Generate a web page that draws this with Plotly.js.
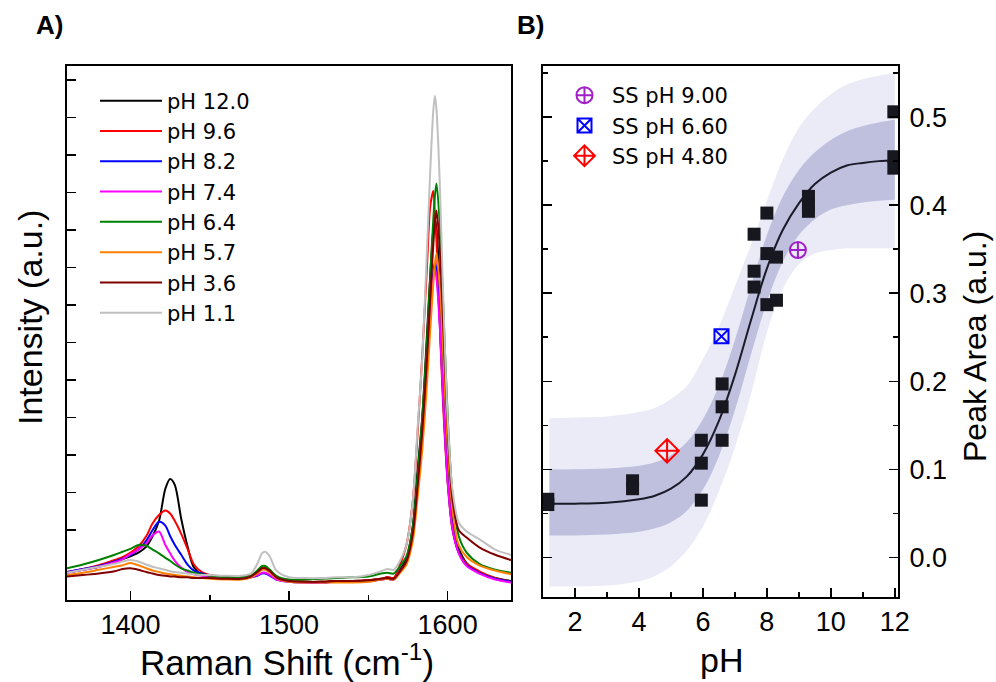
<!DOCTYPE html>
<html>
<head>
<meta charset="utf-8">
<script src="https://cdn.plot.ly/plotly-3.0.1.min.js"></script>
<style>html,body{margin:0;padding:0;background:#fff;}#chart{width:996px;height:682px;}</style>
</head>
<body>
<div id="chart"></div>
<script>
// ---------- Panel A: Raman spectra ----------
const wavenumber = [1360,1370,1380,1390,1395,1400,1405,1410,1414,1418,1422,1425,1428,1432,1436,1440,1445,1450,1460,1470,1476,1480,1483,1485,1488,1492,1500,1510,1520,1530,1540,1550,1558,1562,1566,1570,1574,1578,1581,1584,1587,1589,1591,1592,1593,1595,1597,1600,1603,1607,1612,1620,1630,1640];

const spec_pH12_0 = [-0.57,-0.53,-0.49,-0.43,-0.39, -0.35,-0.30,-0.22,-0.08,0.12, 0.55,0.68,0.60,0.15,-0.22, -0.50,-0.59,-0.61,-0.62,-0.63, -0.61,-0.56,-0.51,-0.51,-0.55, -0.63,-0.68,-0.69,-0.69,-0.68, -0.68,-0.67,-0.65,-0.63,-0.64, -0.53,-0.38,0.05,0.78,1.50, 2.61,3.38,4.01,4.15,4.01, 3.28,2.22,0.87,0.15,-0.24, -0.44,-0.56,-0.64,-0.68];
const spec_pH9_6 = [-0.56,-0.52,-0.47,-0.40,-0.36, -0.30,-0.22,-0.08,0.09,0.20, 0.26,0.22,0.12,-0.05,-0.25, -0.46,-0.56,-0.60,-0.62,-0.63, -0.61,-0.56,-0.51,-0.51,-0.55, -0.63,-0.68,-0.69,-0.69,-0.68, -0.68,-0.67,-0.65,-0.63,-0.64, -0.46,-0.20,0.38,1.27,2.32, 3.52,4.31,4.52,4.20,3.84, 2.79,1.74,0.64,0.01,-0.30, -0.45,-0.55,-0.64,-0.69];
const spec_pH8_2 = [-0.56,-0.52,-0.48,-0.42,-0.38, -0.33,-0.26,-0.14,0.00,0.11, 0.06,-0.08,-0.20,-0.33,-0.46, -0.54,-0.58,-0.61,-0.63,-0.64, -0.63,-0.61,-0.58,-0.58,-0.61, -0.66,-0.69,-0.70,-0.70,-0.69, -0.69,-0.68,-0.66,-0.65,-0.66, -0.55,-0.43,-0.04,0.60,1.24, 2.21,2.89,3.44,3.57,3.44, 2.81,1.87,0.68,0.04,-0.30, -0.47,-0.57,-0.65,-0.69];
const spec_pH7_4 = [-0.57,-0.53,-0.49,-0.43,-0.39, -0.32,-0.26,-0.18,-0.07,-0.02, -0.20,-0.31,-0.41,-0.50,-0.56, -0.59,-0.61,-0.62,-0.64,-0.64, -0.63,-0.60,-0.57,-0.57,-0.60, -0.66,-0.69,-0.70,-0.70,-0.69, -0.69,-0.68,-0.66,-0.65,-0.66, -0.55,-0.43,-0.06,0.58,1.20, 2.16,2.82,3.36,3.49,3.36, 2.74,1.83,0.65,0.03,-0.31, -0.48,-0.58,-0.66,-0.70];
const spec_pH6_4 = [-0.51,-0.46,-0.40,-0.33,-0.29, -0.25,-0.20,-0.21,-0.26,-0.31, -0.37,-0.41,-0.46,-0.51,-0.54, -0.57,-0.59,-0.61,-0.63,-0.63, -0.61,-0.54,-0.48,-0.48,-0.53, -0.61,-0.66,-0.66,-0.65,-0.64, -0.63,-0.62,-0.58,-0.57,-0.58, -0.48,-0.35,0.03,0.71,1.49, 2.53,3.37,4.15,4.46,4.62, 4.10,3.11,1.54,0.50,-0.08, -0.30,-0.45,-0.53,-0.57];
const spec_pH5_7 = [-0.60,-0.57,-0.53,-0.49,-0.47, -0.44,-0.47,-0.51,-0.54,-0.56, -0.58,-0.59,-0.60,-0.61,-0.62, -0.63,-0.64,-0.65,-0.66,-0.66, -0.63,-0.58,-0.53,-0.53,-0.57, -0.64,-0.69,-0.70,-0.70,-0.70, -0.70,-0.69,-0.66,-0.65,-0.66, -0.57,-0.46,-0.15,0.42,1.07, 1.95,2.65,3.30,3.56,3.69, 3.27,2.44,1.13,0.27,-0.20, -0.36,-0.47,-0.54,-0.59];
const spec_pH3_6 = [-0.62,-0.60,-0.58,-0.55,-0.52, -0.51,-0.53,-0.56,-0.58,-0.60, -0.61,-0.62,-0.62,-0.63,-0.63, -0.64,-0.64,-0.64,-0.65,-0.65, -0.62,-0.56,-0.51,-0.51,-0.55, -0.63,-0.68,-0.69,-0.69,-0.68, -0.68,-0.67,-0.65,-0.64,-0.65, -0.55,-0.42,-0.06,0.57,1.31, 2.29,3.08,3.81,4.11,4.26, 3.77,2.85,1.39,0.42,0.00, -0.10,-0.23,-0.33,-0.40];
const spec_pH1_1 = [-0.57,-0.53,-0.49,-0.45,-0.42, -0.40,-0.42,-0.46,-0.49,-0.51, -0.53,-0.55,-0.56,-0.57,-0.58, -0.59,-0.60,-0.60,-0.61,-0.61, -0.58,-0.45,-0.31,-0.29,-0.36, -0.54,-0.63,-0.64,-0.64,-0.63, -0.63,-0.60,-0.55,-0.52,-0.53, -0.41,-0.20,0.38,1.34,2.29, 3.75,4.77,5.60,5.79,5.60, 4.66,3.26,1.50,0.55,0.10, -0.02,-0.12,-0.26,-0.33];

const spectraNames = ["pH 12.0","pH 9.6","pH 8.2","pH 7.4","pH 6.4","pH 5.7","pH 3.6","pH 1.1"];
const spectraColors = ["#000000","#ff0000","#0000ff","#ff00ff","#008000","#ff8000","#800000","#c0c0c0"];
const spectra = [spec_pH12_0, spec_pH9_6, spec_pH8_2, spec_pH7_4, spec_pH6_4, spec_pH5_7, spec_pH3_6, spec_pH1_1];
const intensityTicks = [0,0.5,1,1.5,2,2.5,3,3.5,4,4.5,5,5.5,6];
const ramanTicks = [1400,1500,1600];

// ---------- Panel B: peak area vs pH ----------
const pHData   = [1.15,1.15,3.8,3.8,5.95,5.95,5.95,6.6,6.6,6.6,7.6,7.6,7.6,8.0,8.0,8.0,8.3,8.3,9.3,9.3,9.3,11.97,11.97,11.97];
const areaData = [0.066,0.060,0.087,0.078,0.133,0.107,0.065,0.133,0.171,0.197,0.367,0.325,0.307,0.391,0.345,0.287,0.341,0.292,0.410,0.400,0.393,0.506,0.455,0.442];

const ssNames = ["SS pH 9.00","SS pH 6.60","SS pH 4.80"];
const ssPH    = [8.97, 6.58, 4.88];
const ssArea  = [0.349, 0.251, 0.121];
const ssColors  = ["#a020c8","#0000ff","#ff0000"];
const ssSymbols = ["circle-cross-open","square-x-open","diamond-cross-open"];
const ssSizes   = [16, 14, 18];

const fitPH      = [1.2,2,3,4,4.5,5,5.5,6,6.5,7,7.5,8,8.5,9,9.5,10,10.5,11,11.5,12];
const fitArea    = [0.061,0.061,0.062,0.066,0.070,0.078,0.092,0.117,0.155,0.207,0.269,0.328,0.372,0.402,0.424,0.437,0.445,0.448,0.450,0.451];
const confUpper  = [0.100,0.100,0.101,0.104,0.108,0.116,0.131,0.157,0.195,0.247,0.308,0.366,0.410,0.440,0.460,0.474,0.484,0.490,0.494,0.497];
const confLower  = [0.025,0.025,0.026,0.029,0.033,0.040,0.053,0.077,0.115,0.167,0.230,0.290,0.336,0.366,0.384,0.395,0.400,0.403,0.405,0.406];
const predUpper  = [0.158,0.159,0.160,0.165,0.170,0.180,0.195,0.225,0.262,0.308,0.355,0.405,0.452,0.488,0.510,0.526,0.537,0.543,0.547,0.550];
const predLower  = [-0.033,-0.033,-0.032,-0.027,-0.021,-0.010,0.008,0.035,0.075,0.125,0.185,0.255,0.305,0.333,0.345,0.349,0.351,0.351,0.351,0.351];
const pHTicks = [2,4,6,8,10,12];
const areaTicks = [0,0.1,0.2,0.3,0.4,0.5];

const FONT = "Liberation Sans, Arial, Helvetica, sans-serif";
const LEGFONT = "DejaVu Sans, Liberation Sans, Arial, sans-serif";
const traces = [];

spectra.forEach((s, i) => {
  traces.push({
    x: wavenumber, y: s, type: 'scatter', mode: 'lines', name: spectraNames[i],
    line: {color: spectraColors[i], width: 2, shape: 'spline', smoothing: 0.8},
    xaxis: 'x', yaxis: 'y', legend: 'legend', hoverinfo: 'skip'
  });
});

// prediction band
traces.push({x: fitPH, y: predLower, type:'scatter', mode:'lines', line:{width:0, shape:'spline', color:'rgba(0,0,0,0)'}, xaxis:'x2', yaxis:'y2', showlegend:false, hoverinfo:'skip'});
traces.push({x: fitPH, y: predUpper, type:'scatter', mode:'lines', fill:'tonexty', fillcolor:'#ebebf8', line:{width:0, shape:'spline', color:'rgba(0,0,0,0)'}, xaxis:'x2', yaxis:'y2', showlegend:false, hoverinfo:'skip'});
// confidence band
traces.push({x: fitPH, y: confLower, type:'scatter', mode:'lines', line:{width:0, shape:'spline', color:'rgba(0,0,0,0)'}, xaxis:'x2', yaxis:'y2', showlegend:false, hoverinfo:'skip'});
traces.push({x: fitPH, y: confUpper, type:'scatter', mode:'lines', fill:'tonexty', fillcolor:'#bec0de', line:{width:0, shape:'spline', color:'rgba(0,0,0,0)'}, xaxis:'x2', yaxis:'y2', showlegend:false, hoverinfo:'skip'});
// fit line
traces.push({x: fitPH, y: fitArea, type:'scatter', mode:'lines', line:{color:'#1a1a28', width:2, shape:'spline'}, xaxis:'x2', yaxis:'y2', showlegend:false, hoverinfo:'skip'});
// data squares
traces.push({x: pHData, y: areaData, type:'scatter', mode:'markers', marker:{symbol:'square', size:13, color:'#17171f'}, xaxis:'x2', yaxis:'y2', showlegend:false, cliponaxis:true});
// SS markers
ssNames.forEach((n, i) => {
  traces.push({x:[ssPH[i]], y:[ssArea[i]], type:'scatter', mode:'markers', name:n,
    marker:{symbol: ssSymbols[i], size: ssSizes[i], color: ssColors[i], line:{width:2, color: ssColors[i]}},
    xaxis:'x2', yaxis:'y2', legend:'legend2'});
});

const axisCommon = {showgrid:false, zeroline:false, showline:true, linecolor:'#000', linewidth:2, ticks:'inside', tickcolor:'#000', tickwidth:1.5, ticklen:9, tickfont:{family:FONT, size:27, color:'#000'}};

const layout = {
  width: 996, height: 682,
  margin: {l:0, r:0, t:0, b:0},
  paper_bgcolor:'#fff', plot_bgcolor:'#fff',
  font: {family: FONT, color:'#000'},
  xaxis: Object.assign({}, axisCommon, {domain:[0.0673,0.5131], anchor:'y', range:[1360,1640], tickmode:'array', tickvals: ramanTicks, mirror:true,
    minor:{dtick:50, tick0:1350, ticks:'inside', ticklen:5, tickwidth:1.5, tickcolor:'#000'}}),
  yaxis: Object.assign({}, axisCommon, {domain:[0.1202,0.9032], anchor:'x', range:[-0.933,6.187], tickmode:'array', tickvals: intensityTicks, showticklabels:false, mirror:true}),
  xaxis2: Object.assign({}, axisCommon, {domain:[0.5452,0.9016], anchor:'y2', range:[1,12.1], tickmode:'array', tickvals: pHTicks, mirror:true,
    minor:{dtick:1, tick0:1, ticks:'inside', ticklen:5, tickwidth:1.5, tickcolor:'#000'}}),
  yaxis2: Object.assign({}, axisCommon, {domain:[0.1246,0.9032], anchor:'x2', side:'right', range:[-0.045,0.558], tickmode:'array', tickvals: areaTicks, tickformat:'.1f', mirror:'allticks', ticklabelstandoff:4,
    minor:{dtick:0.05, tick0:0, ticks:'inside', ticklen:5, tickwidth:1.5, tickcolor:'#000'}}),
  legend: {x: 95/996, y: 0.882, xanchor:'left', yanchor:'top', bgcolor:'rgba(0,0,0,0)', font:{family:LEGFONT, size:21, color:'#000'}, itemwidth:62, tracegroupgap:0, traceorder:'normal'},
  legend2: {x: 557/996, y: 0.890, xanchor:'left', yanchor:'top', bgcolor:'rgba(0,0,0,0)', font:{family:LEGFONT, size:21, color:'#000'}, itemwidth:45, tracegroupgap:0, traceorder:'normal'},
  annotations: [
    {text:'<b>A)</b>', x:49/996, y:1-25/682, xref:'paper', yref:'paper', showarrow:false, font:{family:FONT, size:26, color:'#000'}, xanchor:'center', yanchor:'middle'},
    {text:'<b>B)</b>', x:530/996, y:1-25/682, xref:'paper', yref:'paper', showarrow:false, font:{family:FONT, size:26, color:'#000'}, xanchor:'center', yanchor:'middle'},
    {text:'Raman Shift (cm<sup>-1</sup>)', x:287/996, y:1-660/682, xref:'paper', yref:'paper', showarrow:false, font:{family:FONT, size:35, color:'#000'}, xanchor:'center', yanchor:'middle'},
    {text:'pH', x:721/996, y:1-660/682, xref:'paper', yref:'paper', showarrow:false, font:{family:FONT, size:34, color:'#000'}, xanchor:'center', yanchor:'middle'},
    {text:'Intensity (a.u.)', x:30/996, y:1-318/682, xref:'paper', yref:'paper', showarrow:false, textangle:-90, font:{family:FONT, size:34, color:'#000'}, xanchor:'center', yanchor:'middle'},
    {text:'Peak Area (a.u.)', x:975/996, y:1-347/682, xref:'paper', yref:'paper', showarrow:false, textangle:-90, font:{family:FONT, size:32, color:'#000'}, xanchor:'center', yanchor:'middle'}
  ]
};

Plotly.newPlot('chart', traces, layout, {displayModeBar:false, staticPlot:true});
</script>
</body>
</html>
